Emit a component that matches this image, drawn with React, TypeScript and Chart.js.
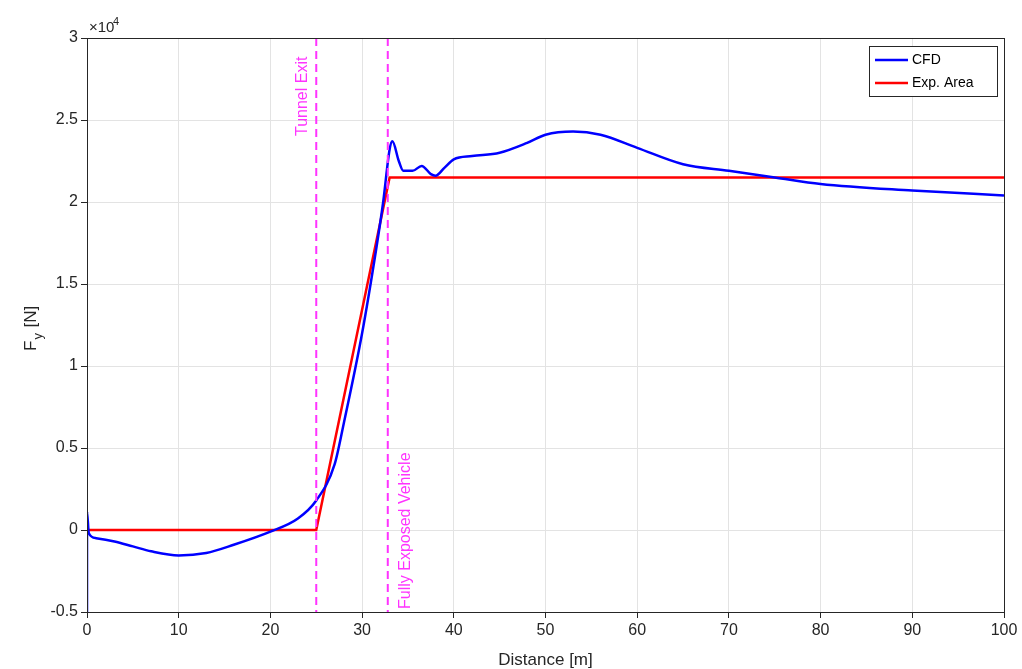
import React, { useEffect, useRef } from "react";
import { Chart, registerables } from "chart.js";
Chart.register(...registerables);

const cfdX = [0, 0, 0.2, 1, 3, 5, 7, 10, 13, 16, 20, 23, 25, 27, 28, 30, 31.5, 32.3, 33, 33.3, 34, 34.5, 35.5, 36.5, 37.5, 38, 39, 40, 42, 45, 48, 50, 53, 56, 60, 65, 70, 75, 80, 90, 100];
const cfdY = [-5000, 1100, -200, -500, -700, -1000, -1300, -1550, -1400, -900, -100, 700, 1800, 4000, 6500, 12000, 17000, 20000, 23200, 23700, 22500, 21900, 21900, 22200, 21700, 21600, 22100, 22600, 22800, 23000, 23600, 24100, 24300, 24100, 23300, 22300, 21900, 21500, 21100, 20700, 20400];
const expX = [0, 25, 33, 100];
const expY = [0, 0, 21500, 21500];
const markers = [
  { x: 25, label: "Tunnel Exit", top: true },
  { x: 32.8, label: "Fully Exposed Vehicle", top: false },
];
const FONT = "Liberation Sans, Arial, sans-serif";

const overlay = {
  id: "overlay",
  afterDatasetsDraw(chart: any) {
    const { ctx, chartArea: a, scales } = chart;
    const xs = scales.x;
    ctx.save();
    ctx.strokeStyle = "#ff33ff";
    ctx.lineWidth = 2;
    ctx.setLineDash([8, 5]);
    for (const m of markers) {
      const px = xs.getPixelForValue(m.x);
      ctx.beginPath();
      ctx.moveTo(px, a.top);
      ctx.lineTo(px, a.bottom);
      ctx.stroke();
      ctx.save();
      if (m.top) ctx.translate(px - 9, a.top + 98);
      else ctx.translate(px + 22, a.bottom - 3);
      ctx.rotate(-Math.PI / 2);
      ctx.fillStyle = "#ff33ff";
      ctx.font = `16px ${FONT}`;
      ctx.textAlign = "left";
      ctx.textBaseline = "alphabetic";
      ctx.fillText(m.label, 0, 0);
      ctx.restore();
    }
    ctx.setLineDash([]);
    ctx.strokeStyle = "#262626";
    ctx.lineWidth = 1;
    ctx.strokeRect(a.left + 0.5, a.top + 0.5, a.right - a.left, a.bottom - a.top);
    // legend
    const lx = 869, ly = 46, lw = 128, lh = 50;
    ctx.fillStyle = "#fff";
    ctx.fillRect(lx, ly, lw, lh);
    ctx.strokeStyle = "#262626";
    ctx.strokeRect(lx + 0.5, ly + 0.5, lw, lh);
    const items = [["CFD", "#0000ff"], ["Exp. Area", "#ff0000"]];
    items.forEach(([t, c], i) => {
      const yy = ly + 14 + i * 23;
      ctx.strokeStyle = c;
      ctx.lineWidth = 2.5;
      ctx.beginPath();
      ctx.moveTo(lx + 6, yy);
      ctx.lineTo(lx + 39, yy);
      ctx.stroke();
      ctx.fillStyle = "#000";
      ctx.font = `14px ${FONT}`;
      ctx.textBaseline = "middle";
      ctx.fillText(t, lx + 43, yy);
    });
    // exponent
    ctx.fillStyle = "#262626";
    ctx.font = `15px ${FONT}`;
    ctx.textBaseline = "alphabetic";
    ctx.fillText("\u00d710", a.left + 2, a.top - 6);
    ctx.font = `11px ${FONT}`;
    ctx.fillText("4", a.left + 26, a.top - 13);
    // y title
    ctx.save();
    ctx.translate(36, (a.top + a.bottom) / 2 + 26);
    ctx.rotate(-Math.PI / 2);
    ctx.font = `17px ${FONT}`;
    ctx.fillText("F", 0, 0);
    const fw = ctx.measureText("F").width;
    ctx.font = `13px ${FONT}`;
    ctx.fillText("y", fw + 1, 6);
    const yw = ctx.measureText("y").width;
    ctx.font = `17px ${FONT}`;
    ctx.fillText(" [N]", fw + yw + 2, 0);
    ctx.restore();
    // x title
    ctx.font = `17px ${FONT}`;
    ctx.textAlign = "center";
    ctx.fillText("Distance [m]", (a.left + a.right) / 2, 665);
    ctx.restore();
  },
};

export default function App() {
  const ref = useRef<HTMLCanvasElement>(null);
  useEffect(() => {
    const chart = new Chart(ref.current!, {
      type: "scatter",
      data: {
        datasets: [
          { label: "CFD", data: cfdX.map((x, i) => ({ x, y: cfdY[i] })), showLine: true, borderColor: "#0000ff", borderWidth: 2.5, pointRadius: 0, cubicInterpolationMode: "monotone" } as any,
          { label: "Exp. Area", data: expX.map((x, i) => ({ x, y: expY[i] })), showLine: true, borderColor: "#ff0000", borderWidth: 2.5, pointRadius: 0 },
        ],
      },
      options: {
        animation: false,
        responsive: false,
        layout: { padding: { top: 38, right: 18, left: 0, bottom: 0 } },
        plugins: { legend: { display: false }, tooltip: { enabled: false } },
        scales: {
          x: {
            type: "linear", min: 0, max: 100,
            ticks: { stepSize: 10, color: "#262626", font: { size: 16, family: FONT } },
            grid: { color: "#e3e3e3", tickLength: 6, tickColor: "#262626" } as any,
            border: { color: "#262626" },
            afterFit: (s: any) => { s.height = 57; },
          },
          y: {
            min: -5000, max: 30000,
            ticks: { stepSize: 5000, color: "#262626", font: { size: 16, family: FONT }, callback: (v: any) => String(v / 10000) },
            grid: { color: "#e3e3e3", tickLength: 6, tickColor: "#262626" } as any,
            border: { color: "#262626" },
            afterFit: (s: any) => { s.width = 87; },
          },
        },
      },
      plugins: [overlay],
    });
    return () => chart.destroy();
  }, []);
  return <div style={{ position: "fixed", left: 0, top: 0 }}><canvas ref={ref} width={1022} height={669} /></div>;
}
